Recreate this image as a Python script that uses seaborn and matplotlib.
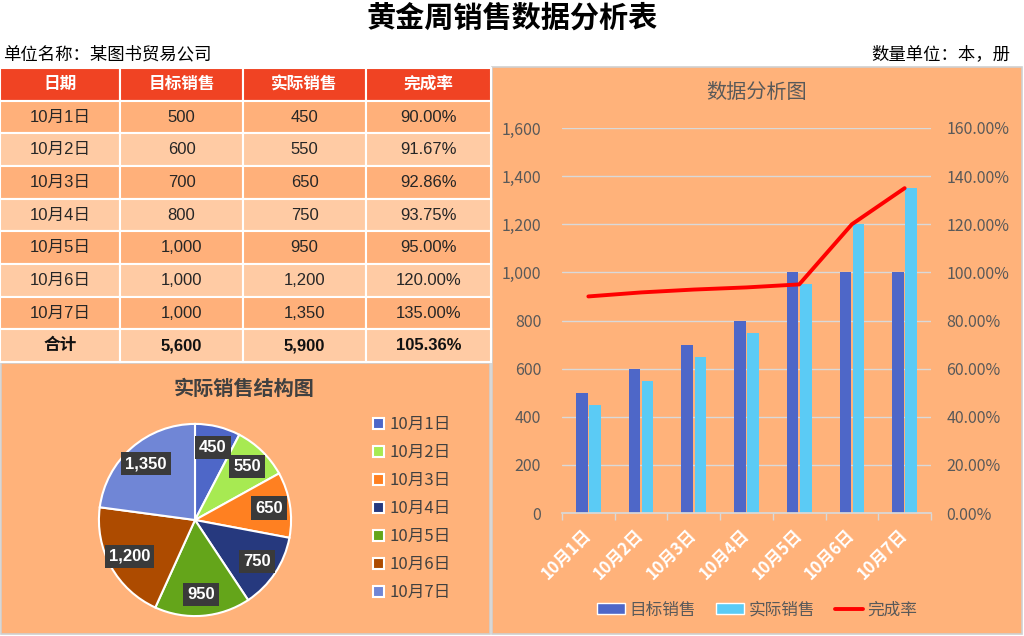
import seaborn as sns
import numpy as np
import pandas as pd
import matplotlib.pyplot as plt
from matplotlib.patches import Rectangle, Patch
from matplotlib.lines import Line2D
from matplotlib.ticker import FuncFormatter, PercentFormatter

# data
dates = ['10月1日', '10月2日', '10月3日', '10月4日', '10月5日', '10月6日', '10月7日']
target = [500, 600, 700, 800, 1000, 1000, 1000]
actual = [450, 550, 650, 750, 950, 1200, 1350]
rate = [0.90, 0.9167, 0.9286, 0.9375, 0.95, 1.20, 1.35]
total_target = 5600
total_actual = 5900
total_rate = 1.0536
headers = ['日期', '目标销售', '实际销售', '完成率']
series_names = ['目标销售', '实际销售', '完成率']

pie_colors = ['#4E67C8', '#A7EA52', '#FF8021', '#26397E', '#64A51A', '#AD4B00', '#7086D6']
ORANGE = '#FFB27A'
GRAY = '#D0D0D0'

sns.set_theme(style='white')
plt.rcParams['font.family'] = ['Noto Sans CJK SC', 'DejaVu Sans']
plt.rcParams['axes.unicode_minus'] = False
NUMFONT = ['Liberation Sans', 'Noto Sans CJK SC']

W, H = 1024, 636
fig = plt.figure(figsize=(W / 100, H / 100), dpi=100)
fig.patch.set_facecolor('white')


def box(x0, y0, x1, y1):
    # pixel box (y from top) -> figure fraction rect
    return [x0 / W, 1 - y1 / H, (x1 - x0) / W, (y1 - y0) / H]


# panel backgrounds
for x0, y0, x1, y1 in [(1, 363, 490, 634), (492, 67, 1022, 634)]:
    fig.add_artist(Rectangle((x0 / W, 1 - y1 / H), (x1 - x0) / W, (y1 - y0) / H,
                             transform=fig.transFigure, facecolor=ORANGE,
                             edgecolor=GRAY, lw=1.2, zorder=-10))

# titles
fig.text(0.5, 1 - 18 / H, '黄金周销售数据分析表', ha='center', va='center',
         fontsize=21, fontweight='bold', color='black')
fig.text(3 / W, 1 - 54 / H, '单位名称：某图书贸易公司', ha='left', va='center',
         fontsize=12.5, color='black')
fig.text(1010 / W, 1 - 54 / H, '数量单位：本，册', ha='right', va='center',
         fontsize=12.5, color='black')

# ---- table ----
tax = fig.add_axes(box(0, 68, 491, 362))
tax.axis('off')
cell_text = [headers]
for d, t, a, r in zip(dates, target, actual, rate):
    cell_text.append([d, f'{t:,}', f'{a:,}', f'{r:.2%}'])
cell_text.append(['合计', f'{total_target:,}', f'{total_actual:,}', f'{total_rate:.2%}'])
row_cols = ['#F04323'] + ['#FFB07A' if i % 2 == 0 else '#FFCBA4' for i in range(7)] + ['#FFCBA4']
cell_cols = [[c] * 4 for c in row_cols]
tbl = tax.table(cellText=cell_text, cellColours=cell_cols, cellLoc='center',
                colWidths=[120 / 491, 123 / 491, 123 / 491, 125 / 491], bbox=[0, 0, 1, 1])
tbl.auto_set_font_size(False)
for (r, c), cell in tbl.get_celld().items():
    cell.set_edgecolor('white')
    cell.set_linewidth(1.5)
    txt = cell.get_text()
    txt.set_fontfamily(NUMFONT)
    txt.set_fontsize(12)
    if r == 0:
        txt.set_color('white')
        txt.set_fontweight('bold')
    elif r == 8:
        txt.set_color('#111111')
        txt.set_fontweight('bold')
    else:
        txt.set_color('#262626')

# ---- pie ----
fig.text(244 / W, 1 - 388 / H, '实际销售结构图', ha='center', va='center',
         fontsize=14.5, fontweight='bold', color='#404040')
pax = fig.add_axes(box(97, 422, 293, 618))
total = sum(actual)
wedges, texts, autotexts = pax.pie(
    actual, colors=pie_colors, startangle=90, counterclock=False,
    autopct=lambda p: f'{p * total / 100:,.0f}', pctdistance=0.78,
    wedgeprops=dict(edgecolor='white', linewidth=1.5),
    textprops=dict(color='white', fontweight='bold', fontsize=12))
for t in autotexts:
    t.set_fontfamily(NUMFONT)
    t.set_bbox(dict(facecolor='#3A3A3A', edgecolor='none', boxstyle='square,pad=0.25'))
pax.set_xlim(-1.02, 1.02)
pax.set_ylim(-1.02, 1.02)
for w in wedges:
    w.set_clip_on(False)
fig.legend([Patch(facecolor=c, edgecolor='white', linewidth=1.5) for c in pie_colors], dates,
           loc='upper left', bbox_to_anchor=(358 / W, 1 - 401 / H), frameon=False,
           fontsize=12, labelcolor='#404040', handlelength=0.65, handleheight=0.65,
           handletextpad=0.35, labelspacing=0.66)

# ---- bar + line chart ----
fig.text(757 / W, 1 - 93 / H, '数据分析图', ha='center', va='center',
         fontsize=14.5, color='#595959')
bax = fig.add_axes(box(562, 128, 931, 513))
df = pd.DataFrame({'日期': dates * 2, '销量': target + actual,
                   '类型': [series_names[0]] * 7 + [series_names[1]] * 7})
sns.barplot(data=df, x='日期', y='销量', hue='类型', palette=['#4E67C8', '#5BCBF5'],
            width=0.5, gap=0.13, saturation=1, legend=False, ax=bax, linewidth=0)
bax.set_facecolor('none')
bax.set_xlim(-0.5, 6.5)
bax.set_ylim(0, 1600)
bax.set_yticks(np.arange(0, 1601, 200))
bax.yaxis.set_major_formatter(FuncFormatter(lambda v, p: f'{v:,.0f}'))
bax.grid(axis='y', color='#D9D9D9', lw=1)
bax.set_xlabel('')
bax.set_ylabel('')
for s in ['top', 'left', 'right']:
    bax.spines[s].set_visible(False)
bax.spines['bottom'].set_color('#D9D9D9')
bax.tick_params(axis='y', length=0, pad=15, labelsize=11.5, labelcolor='#595959')
bax.tick_params(axis='x', which='major', length=0, pad=14, labelsize=12, labelcolor='white')
bax.set_xticks(np.arange(-0.5, 7, 1), minor=True)
bax.tick_params(axis='x', which='minor', bottom=True, length=5, width=1, color='#D9D9D9')
for lab in bax.get_xticklabels():
    lab.set_rotation(45)
    lab.set_ha('right')
    lab.set_va('center')
    lab.set_rotation_mode('anchor')
    lab.set_fontweight('bold')

ax2 = bax.twinx()
sns.lineplot(x=np.arange(len(dates)), y=rate, ax=ax2, color='#FF0000', linewidth=2.8)
ax2.set_ylim(0, 1.6)
ax2.set_yticks(np.arange(0, 1.61, 0.2))
ax2.yaxis.set_major_formatter(PercentFormatter(1, decimals=2))
ax2.grid(False)
ax2.set_ylabel('')
for s in ax2.spines.values():
    s.set_visible(False)
ax2.tick_params(axis='y', right=True, length=0, pad=11, labelsize=11.5, labelcolor='#595959')

fig.legend([Patch(facecolor='#4E67C8'), Patch(facecolor='#5BCBF5'),
            Line2D([], [], color='#FF0000', lw=2.8)], series_names,
           loc='center', bbox_to_anchor=(757 / W, 1 - 610 / H), ncol=3, frameon=False,
           fontsize=12, labelcolor='#595959', handlelength=1.7, handleheight=0.6,
           handletextpad=0.25, columnspacing=1.2)

fig.savefig('out.png', dpi=100)
